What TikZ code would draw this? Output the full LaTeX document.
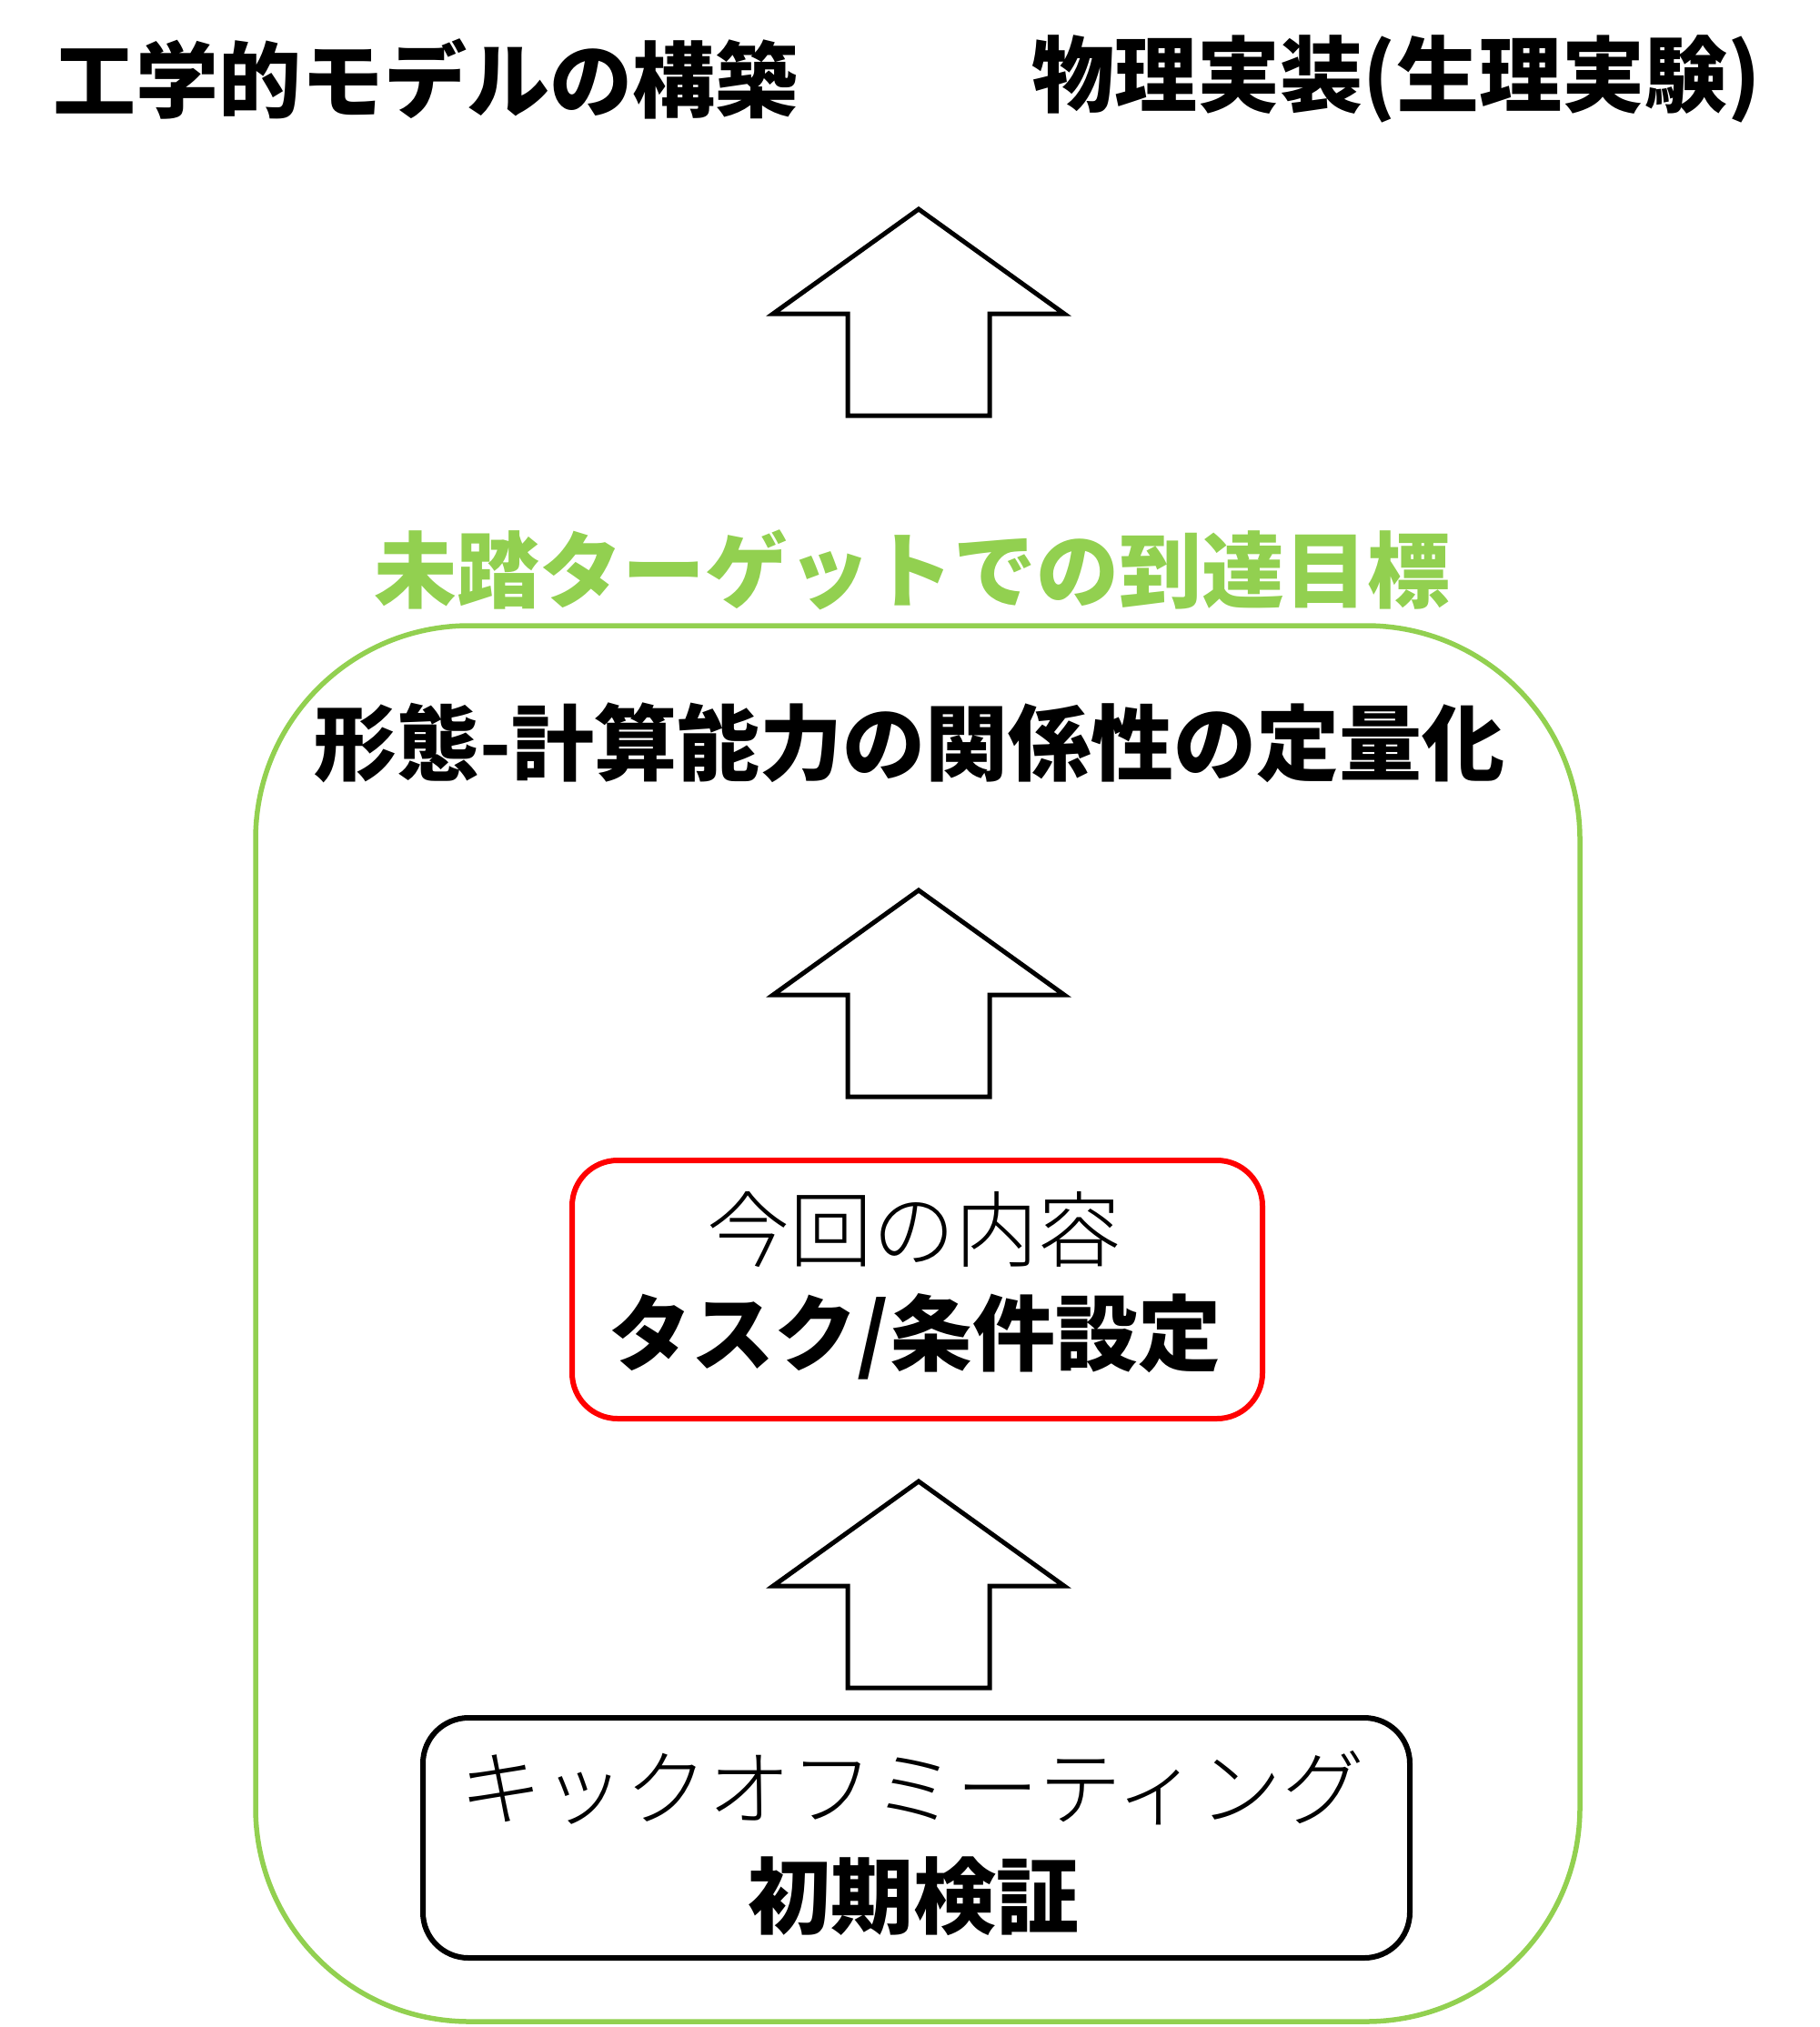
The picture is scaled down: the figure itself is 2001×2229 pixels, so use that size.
\documentclass[tikz,border=0pt]{standalone}
\usepackage{fontspec}
\setmainfont{Noto Sans CJK JP}
\IfFontExistsTF{Noto Sans CJK JP Light}
  {\newfontfamily\jplight{Noto Sans CJK JP Light}}
  {\newfontfamily\jplight{Noto Sans CJK JP}}
\definecolor{lgreen}{HTML}{92D050}
\definecolor{pred}{HTML}{FF0000}
\newcommand{\myuparrow}[2]{% #1 = x of tip, #2 = y of tip
  \draw[arrowshape] (#1,#2) -- ++(160,115) -- ++(-82,0) -- ++(0,112) -- ++(-156,0) -- ++(0,-112) -- ++(-82,0) -- cycle;}
\begin{document}
\begin{tikzpicture}[x=1pt,y=-1pt,
  bigtext/.style={font=\fontsize{91}{100}\selectfont\bfseries, inner sep=0pt, anchor=center},
  thintext/.style={font=\fontsize{91}{100}\selectfont\jplight, inner sep=0pt, anchor=center},
  arrowshape/.style={draw=black, line width=5pt, fill=white, line join=miter},
  goalbox/.style={draw=lgreen, line width=5.5pt, rounded corners=235pt, inner sep=0pt},
  taskbox/.style={draw=pred, line width=6pt, rounded corners=50pt, inner sep=0pt},
  kickbox/.style={draw=black, line width=6pt, rounded corners=50pt, inner sep=0pt}]
\useasboundingbox (0,0) rectangle (2001,2229);
% titles
\node[bigtext] (eng) at (468,87) {工学的モデルの構築};
\node[bigtext] (phys) at (1535,87) {物理実装(生理実験)};
\myuparrow{1010}{230}
% goal region
\node[bigtext, text=lgreen] (goal) at (1003,627) {未踏ターゲットでの到達目標};
\node[goalbox, minimum width=1456pt, minimum height=1535pt] (region) at (1009,1455.5) {};
\node[bigtext] (quant) at (1000,817) {形態-計算能力の関係性の定量化};
\myuparrow{1010}{979}
% current task
\node[taskbox, minimum width=759pt, minimum height=284pt] (task) at (1008.5,1418) {};
\node[thintext] (now) at (1005,1352) {今回の内容};
\node[bigtext] (taskt) at (1006,1470) {タスク/条件設定};
\myuparrow{1010}{1629}
% kickoff
\node[kickbox, minimum width=1085pt, minimum height=264pt] (kick) at (1007.5,2021) {};
\node[thintext] (kicktxt) at (1003,1966) {キックオフミーティング};
\node[bigtext] (init) at (1004,2085) {初期検証};
\end{tikzpicture}
\end{document}
